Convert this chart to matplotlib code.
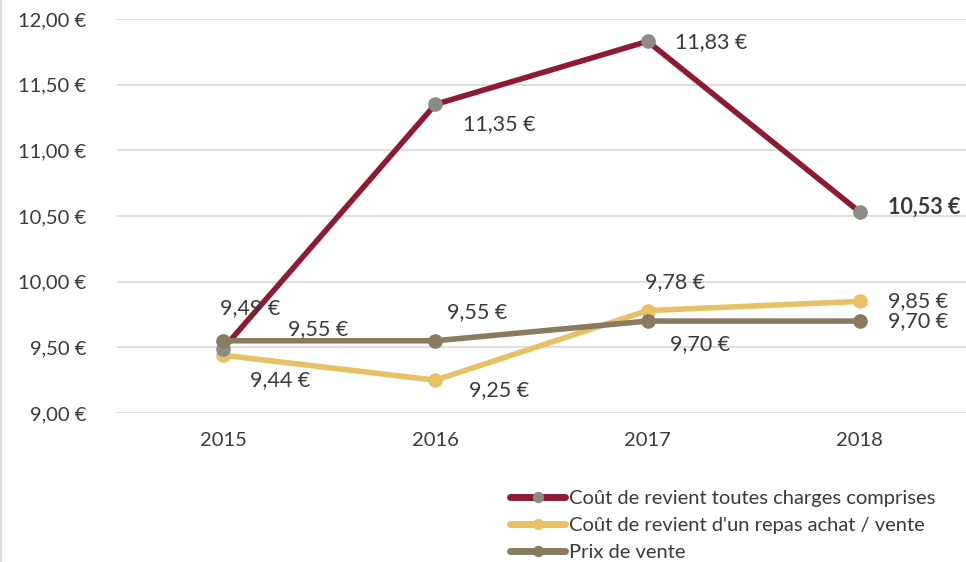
import matplotlib
matplotlib.use("Agg")
import matplotlib.pyplot as plt

plt.rcParams['font.family'] = ['Lato', 'DejaVu Sans']

years = ["2015", "2016", "2017", "2018"]
cout_total = [9.49, 11.35, 11.83, 10.53]
cout_repas = [9.44, 9.25, 9.78, 9.85]
prix_vente = [9.55, 9.55, 9.70, 9.70]
yticks = [9.0, 9.5, 10.0, 10.5, 11.0, 11.5, 12.0]

names = ["Coût de revient toutes charges comprises",
         "Coût de revient d'un repas achat / vente",
         "Prix de vente"]

red = "#8E1B31"
yellow = "#E8C066"
brown = "#8A7B5F"
grey_marker = "#8C8C86"
text_col = "#3A3A3A"

fig = plt.figure(figsize=(9.66, 5.62), dpi=100)
ax = fig.add_axes([117/966, 1-413/562, 1-117/966, (413-19)/562])

x = list(range(len(years)))
ax.plot(x, cout_repas, color=yellow, lw=4, marker='o', ms=9.5, mfc=yellow, mec=yellow, zorder=3, label=names[1], solid_capstyle='round')
ax.plot(x, cout_total, color=red, lw=4, marker='o', ms=9.5, mfc=grey_marker, mec=grey_marker, zorder=4, label=names[0], solid_capstyle='round')
ax.plot(x, prix_vente, color=brown, lw=4, marker='o', ms=9.5, mfc=brown, mec=brown, zorder=5, label=names[2], solid_capstyle='round')

ax.set_xlim(-0.5, 3.5)
ax.set_ylim(9.0, 12.0)
ax.set_yticks(yticks)
ax.set_yticklabels([f"{v:.2f}".replace('.', ',') + " €" for v in yticks])
ax.set_xticks(x)
ax.set_xticklabels(years)
ax.tick_params(axis='both', length=0, labelsize=14.5, colors=text_col)
ax.tick_params(axis='y', pad=22)
ax.tick_params(axis='x', pad=14)
ax.grid(axis='y', color='#D9D9D9', lw=1.2)
ax.set_axisbelow(True)
for s in ax.spines.values():
    s.set_visible(False)

def fmt(v):
    return f"{v:.2f}".replace('.', ',') + " €"

# label offsets in pixels (dx, dy) relative to point
total_off = [(27, 41), (64, -20), (64, -1), (64, 5)]
repas_off = [(57, -25), (64, -10), (27, 28), (58, 0)]
prix_off = [(95, 12), (42, 29), (52, -23), (58, 0)]

for i in x:
    ax.annotate(fmt(cout_total[i]), (i, cout_total[i]), xytext=total_off[i],
                textcoords='offset pixels', ha='center', va='center',
                fontsize=15.5, color=text_col,
                fontweight='bold' if i == 3 else 'normal', zorder=6)
    ax.annotate(fmt(cout_repas[i]), (i, cout_repas[i]), xytext=repas_off[i],
                textcoords='offset pixels', ha='center', va='center',
                fontsize=15.5, color=text_col, zorder=6)
    ax.annotate(fmt(prix_vente[i]), (i, prix_vente[i]), xytext=prix_off[i],
                textcoords='offset pixels', ha='center', va='center',
                fontsize=15.5, color=text_col, zorder=6)

# left border line
fig.add_artist(plt.Line2D([1/966, 1/966], [0, 1], color='#D9D9D9', lw=1.5))

handles, labels = ax.get_legend_handles_labels()
order = [1, 0, 2]
leg = fig.legend([handles[i] for i in order], [labels[i] for i in order],
                 loc='upper left', bbox_to_anchor=(510/966, 1-490/562),
                 frameon=False, fontsize=14.5, handlelength=2.75, handletextpad=0.2,
                 labelspacing=0.48, borderpad=0, borderaxespad=0, markerscale=0.75)
for t in leg.get_texts():
    t.set_color(text_col)
for h in leg.legend_handles:
    h.set_linewidth(5)

fig.savefig("out.png", dpi=100)
